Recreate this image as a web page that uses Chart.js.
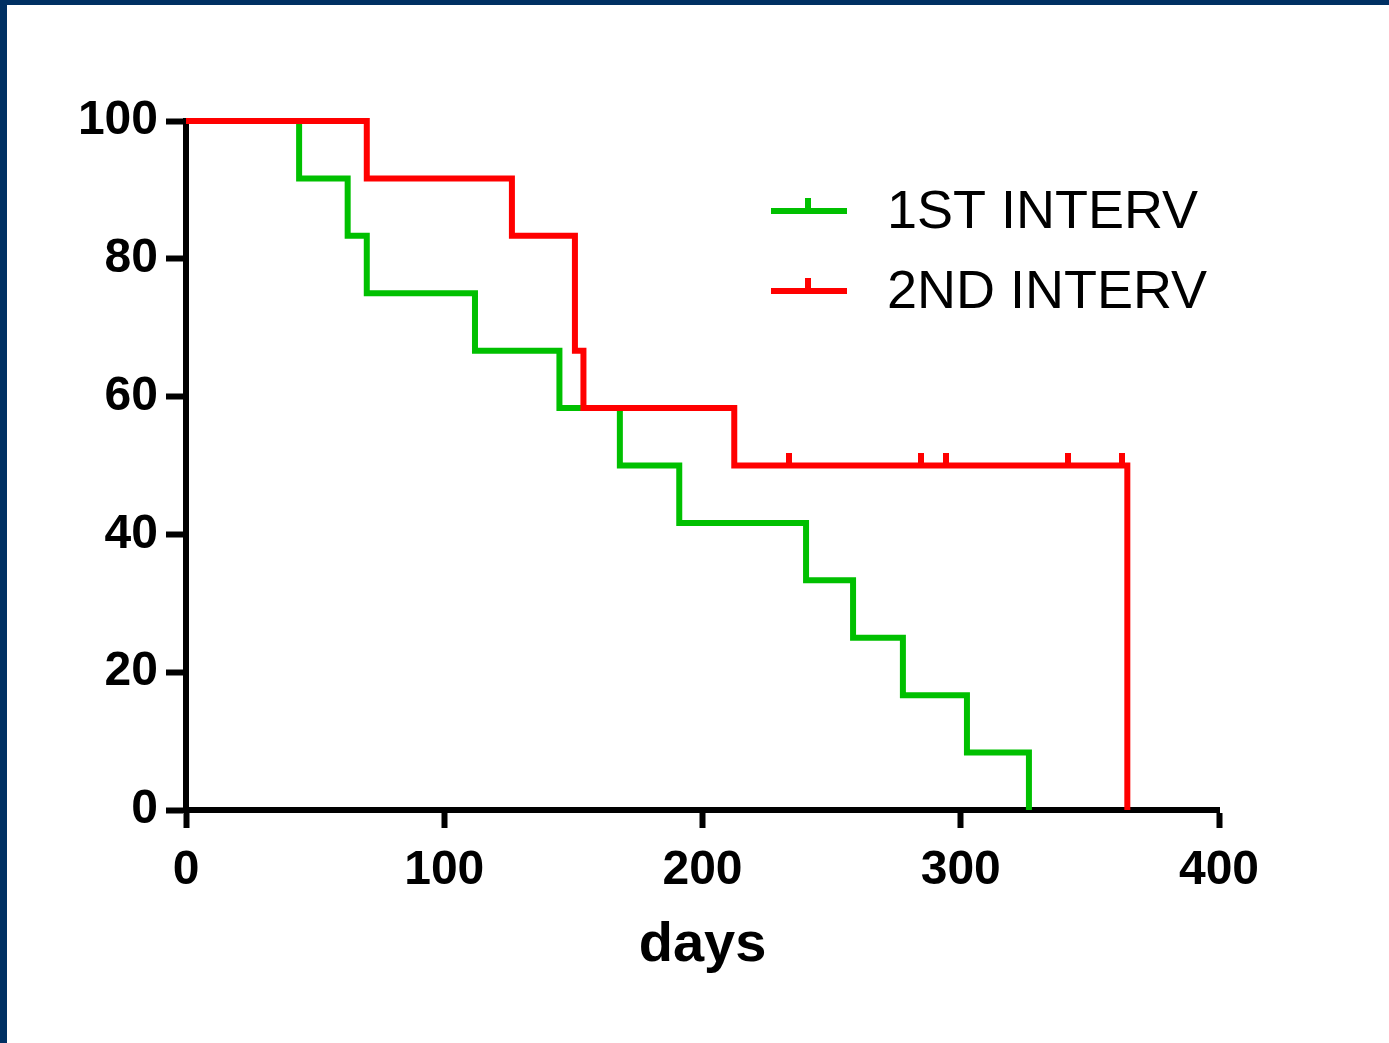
<!DOCTYPE html>
<html>
<head>
<meta charset="utf-8">
<script src="https://cdn.jsdelivr.net/npm/chart.js@4.4.0/dist/chart.umd.min.js"></script>
<style>
  html, body { margin: 0; padding: 0; background: #fff; overflow: hidden; }
  #wrap { position: relative; width: 1389px; height: 1043px; }
  #frameTop { position: absolute; left: 0; top: 0; width: 1389px; height: 5px; background: #003063; }
  #frameLeft { position: absolute; left: 0; top: 0; width: 7px; height: 1043px; background: #003063; }
</style>
</head>
<body>
<div id="wrap">
  <canvas id="myChart" width="1389" height="1043"></canvas>
  <div id="frameTop"></div>
  <div id="frameLeft"></div>
</div>
<script>
// survival data
const seriesNames = ["1ST INTERV", "2ND INTERV"];
const seriesColors = ["#00C000", "#FF0000"];

const firstDays = [0, 43.8, 62.6, 70, 111.9, 144.6, 168, 191, 240.1, 258.3, 277.6, 302.4, 326.4];
const firstSurv = [100, 91.67, 83.33, 75, 66.67, 58.33, 50, 41.67, 33.33, 25, 16.67, 8.33, 0];

const secondDays = [0, 70, 126.2, 150.6, 153.9, 212.3, 364.5];
const secondSurv = [100, 91.67, 83.33, 66.67, 58.33, 50, 0];

// censored patients (small vertical ticks on the red line)
const secondCensorDays = [233.5, 284.6, 294.3, 341.5, 362.4];
const secondCensorSurv = [50, 50, 50, 50, 50];

const xTicks = [0, 100, 200, 300, 400];
const yTicks = [0, 20, 40, 60, 80, 100];

function toPoints(xs, ys) {
  return xs.map((x, i) => ({ x: x, y: ys[i] }));
}

// censor mark: a tick that only sticks up above the line
function censorMark(color) {
  const c = document.createElement("canvas");
  c.width = 6;
  c.height = 26;
  const g = c.getContext("2d");
  g.fillStyle = color;
  g.fillRect(0, 0, 6, 14);
  return c;
}

const fontName = "'Liberation Sans', Arial, sans-serif";

// legend drawn by hand so it looks like the prism one
const kmLegend = {
  id: "kmLegend",
  afterDraw(chart) {
    const ctx = chart.ctx;
    const rows = [211, 291];
    ctx.save();
    for (let i = 0; i < seriesNames.length; i++) {
      const y = rows[i];
      ctx.fillStyle = seriesColors[i];
      ctx.fillRect(771, y - 3, 76, 6);
      ctx.fillRect(805, y - 13, 6, 12);
      ctx.fillStyle = "#000";
      ctx.font = "54px " + fontName;
      ctx.textBaseline = "middle";
      ctx.textAlign = "left";
      ctx.fillText(seriesNames[i], 887, y + 2);
    }
    ctx.restore();
  }
};

const ctx = document.getElementById("myChart");
new Chart(ctx, {
  type: "line",
  data: {
    datasets: [
      {
        label: seriesNames[1],
        data: toPoints(secondDays, secondSurv),
        borderColor: seriesColors[1],
        borderWidth: 6,
        stepped: true,
        pointRadius: 0,
        clip: false,
        fill: false
      },
      {
        label: seriesNames[1] + " censored",
        type: "scatter",
        data: toPoints(secondCensorDays, secondCensorSurv),
        showLine: false,
        pointStyle: censorMark(seriesColors[1]),
        pointRadius: 6,
        borderWidth: 0,
        clip: false
      },
      {
        label: seriesNames[0],
        data: toPoints(firstDays, firstSurv),
        borderColor: seriesColors[0],
        borderWidth: 6,
        stepped: true,
        pointRadius: 0,
        clip: false,
        fill: false
      }
    ]
  },
  options: {
    responsive: false,
    animation: false,
    events: [],
    layout: { padding: { top: 121, right: 170, left: 0, bottom: 0 } },
    plugins: {
      legend: { display: false },
      tooltip: { enabled: false }
    },
    scales: {
      x: {
        type: "linear",
        min: 0,
        max: 400,
        afterBuildTicks: (scale) => { scale.ticks = xTicks.map(v => ({ value: v })); },
        afterFit: (scale) => { scale.height = 233; },
        border: { display: true, color: "#000", width: 6 },
        grid: { drawOnChartArea: false, drawTicks: true, tickLength: 18, tickWidth: 6, tickColor: "#000" },
        ticks: {
          color: "#000",
          padding: 14,
          maxRotation: 0,
          font: { family: fontName, size: 48, weight: "bold" }
        },
        title: {
          display: true,
          text: "days",
          color: "#000",
          padding: { top: 0, bottom: 64 },
          font: { family: fontName, size: 56, weight: "bold" }
        }
      },
      y: {
        type: "linear",
        min: 0,
        max: 100,
        afterBuildTicks: (scale) => { scale.ticks = yTicks.map(v => ({ value: v })); },
        afterFit: (scale) => { scale.width = 186; },
        border: { display: true, color: "#000", width: 6 },
        grid: { drawOnChartArea: false, drawTicks: true, tickLength: 20, tickWidth: 6, tickColor: "#000" },
        ticks: {
          color: "#000",
          padding: 8,
          font: { family: fontName, size: 48, weight: "bold" }
        }
      }
    }
  },
  plugins: [kmLegend]
});
</script>
</body>
</html>
